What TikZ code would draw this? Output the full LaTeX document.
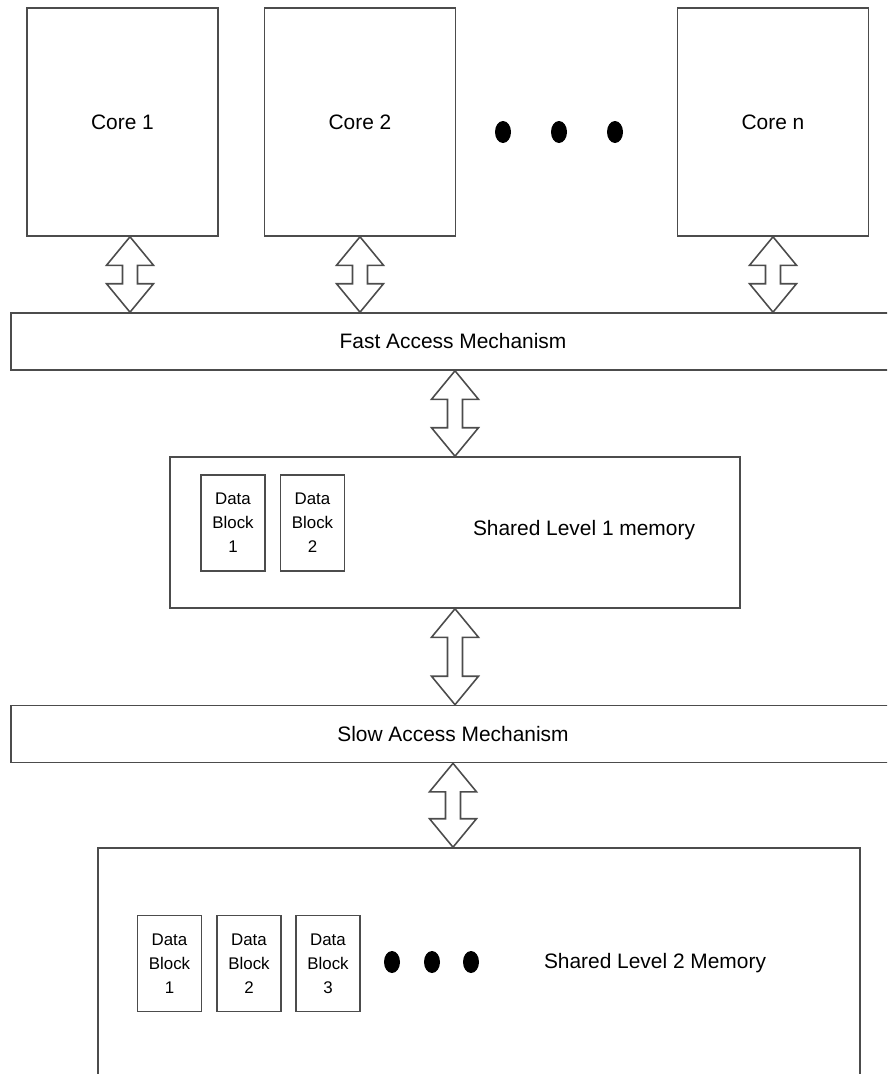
\documentclass[tikz,border=0pt]{standalone}
\usepackage{fontspec}
\setmainfont{Liberation Sans}
\usetikzlibrary{calc}

\definecolor{linec}{gray}{0.3}
\newcommand{\lblfont}{\fontsize{11.9}{14}\selectfont}
\newcommand{\blkfont}{\fontsize{9.6}{13.6}\selectfont}
% hollow two-headed bus arrow, x from the first point, tips at both y values
\newcommand{\busarrow}[2]{%
  \draw[bus] let \p1=#1, \p2=#2, \n1={\y1-\y2-1.14cm} in
    (\x1,\y1) -- ++(0.47,-0.57) -- ++(-0.32,0) -- ++(0pt,-\n1) -- ++(0.32,0)
    -- (\x1,\y2) -- ++(-0.47,0.57) -- ++(0.32,0) -- ++(0pt,\n1) -- ++(-0.32,0) -- cycle;}

\begin{document}
\begin{tikzpicture}[
    core/.style={draw=linec, line width=0.9pt, minimum width=3.82cm, minimum height=4.56cm, font=\lblfont},
    bar/.style={draw=linec, line width=0.9pt, minimum width=17.68cm, minimum height=1.14cm, font=\lblfont},
    mem/.style={draw=linec, line width=0.9pt},
    blk/.style={draw=linec, line width=0.9pt, minimum width=1.28cm, minimum height=1.92cm, inner sep=0pt, align=center, font=\blkfont},
    bus/.style={draw=linec, fill=white, line width=0.9pt, line join=miter}
]
\clip (0,0) rectangle (17.74,-21.48);

% cores
\node[core] (c1) at (2.45,-2.44) {Core 1};
\node[core] (c2) at (7.2,-2.44) {Core 2};
\node[core] (cn) at (15.46,-2.44) {Core n};
\foreach \x in {10.06,11.18,12.3}
  \fill (\x,-2.64) ellipse (0.16 and 0.22);

% access mechanisms
\node[bar] (fam) at (9.06,-6.83) {Fast Access Mechanism};
\node[bar] (sam) at (9.06,-14.68) {Slow Access Mechanism};

% level 1
\node[mem, minimum width=11.4cm, minimum height=3.02cm] (mem1) at (9.1,-10.65) {};
\node[blk] (b11) at (4.66,-10.46) {Data\\Block\\1};
\node[blk] (b12) at (6.25,-10.46) {Data\\Block\\2};
\node[font=\lblfont] (t1) at (11.68,-10.6) {Shared Level 1 memory};

% level 2
\node[mem, minimum width=15.24cm, minimum height=5.04cm] (mem2) at (9.58,-19.48) {};
\node[blk] (b21) at (3.39,-19.27) {Data\\Block\\1};
\node[blk] (b22) at (4.98,-19.27) {Data\\Block\\2};
\node[blk] (b23) at (6.56,-19.27) {Data\\Block\\3};
\foreach \x in {7.84,8.64,9.42}
  \fill (\x,-19.24) ellipse (0.16 and 0.22);
\node[font=\lblfont] (t2) at (13.1,-19.26) {Shared Level 2 Memory};

% buses
\busarrow{([xshift=0.15cm]c1.south)}{(fam.north)}
\busarrow{(c2.south)}{(fam.north)}
\busarrow{(cn.south)}{(fam.north)}
\busarrow{(fam.south -| mem1.north)}{(mem1.north)}
\busarrow{(mem1.south)}{(sam.north)}
\busarrow{(sam.south)}{(mem2.north)}
\end{tikzpicture}
\end{document}
